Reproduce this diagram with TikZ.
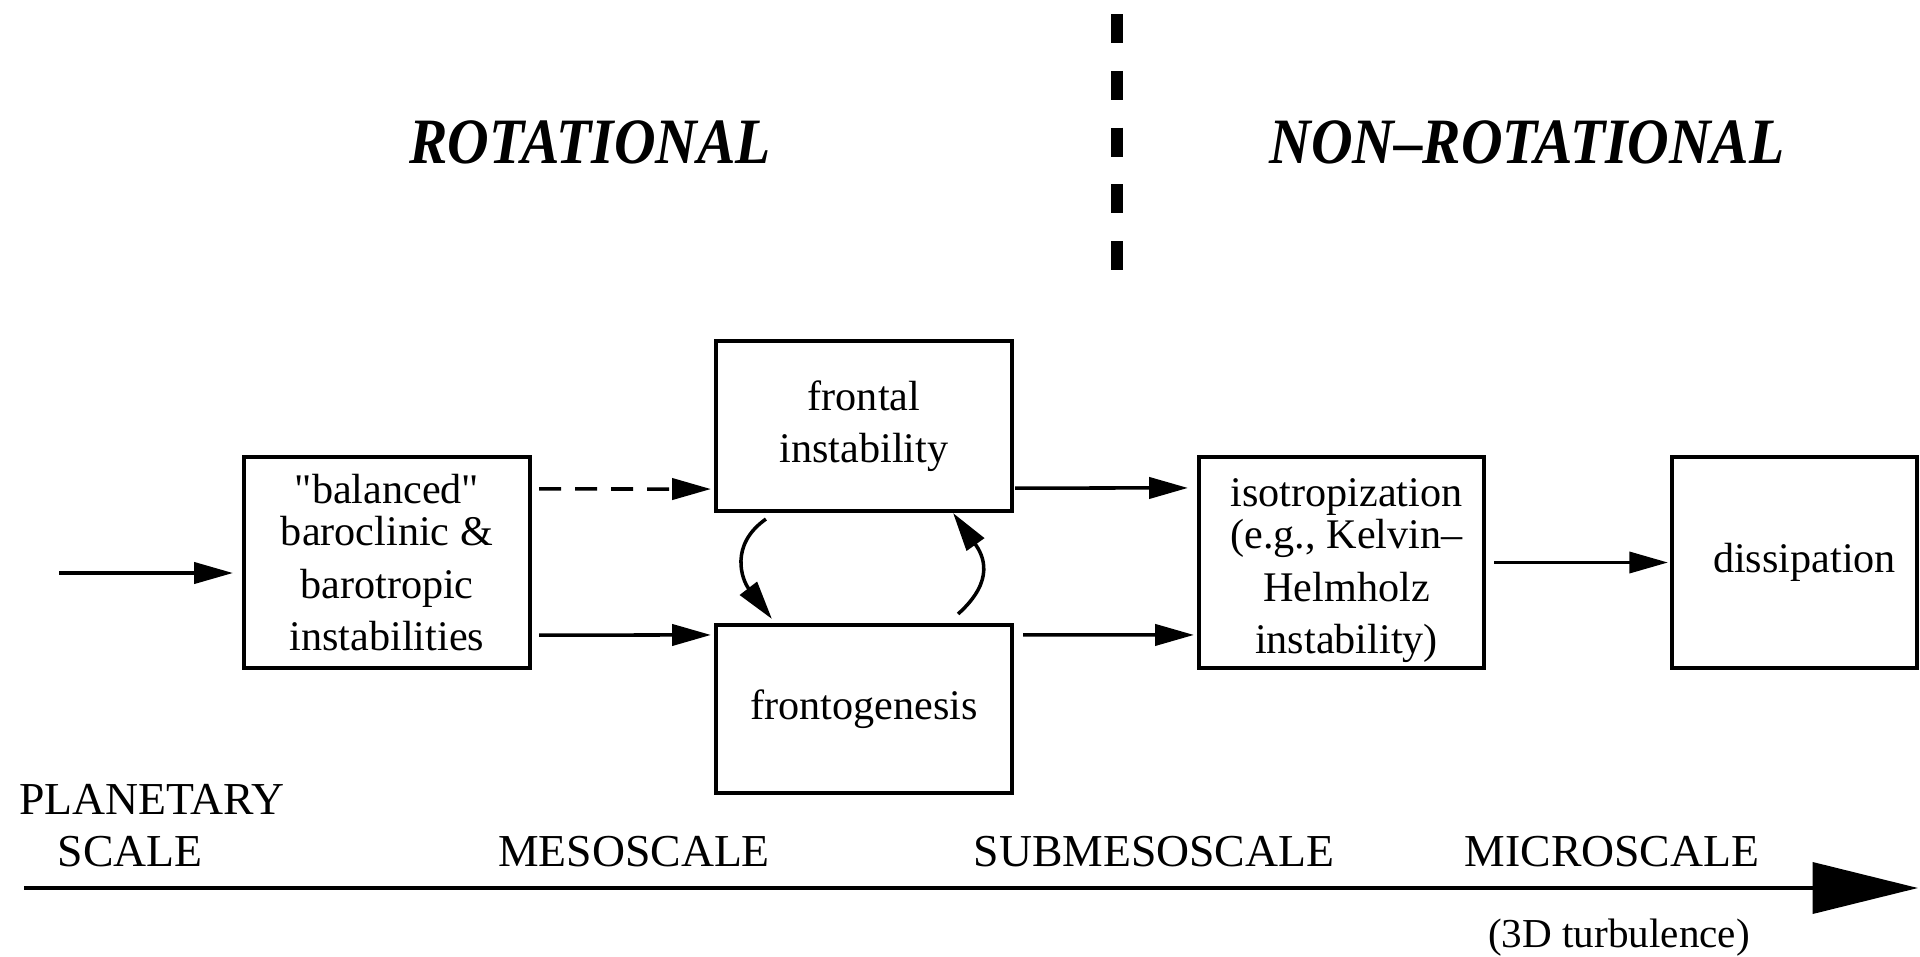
\documentclass[tikz,border=0pt]{standalone}
\usepackage{fontspec}
\setmainfont{Liberation Serif}
\newfontfamily\plainquote{Liberation Serif}
\usetikzlibrary{arrows.meta,calc}
\begin{document}
\begin{tikzpicture}[x=0.01cm,y=-0.01cm,
  box/.style={draw,line width=1pt,inner sep=0pt,outer sep=0pt,align=center,font=\fontsize{12}{14.8}\selectfont},
  boxtext/.style={inner sep=0pt,align=center,font=\fontsize{12}{14.8}\selectfont},
  arr/.style={line width=1pt,-{Triangle[length=11pt,width=6pt]}},
  dasharr/.style={arr,dash pattern=on 0.22cm off 0.14cm},
  hdr/.style={font=\fontsize{18.4}{20}\selectfont\bfseries\itshape,anchor=base,inner sep=0pt},
  scl/.style={font=\fontsize{13}{15}\selectfont,anchor=base,inner sep=0pt},
  divider/.style={line width=3.4pt,dash pattern=on 0.29cm off 0.2775cm},
  axis/.style={line width=1.1pt,-{Triangle[length=30pt,width=14.5pt]}}]
\useasboundingbox (0,0) rectangle (1920,957);

% headers and divider
\node[hdr] (rot) at (590,163) {\scalebox{0.89}[1]{ROTATIONAL}};
\node[hdr] (nonrot) at (1527,163) {\scalebox{0.89}[1]{NON--ROTATIONAL}};
\coordinate (dtop) at (1117,14);
\coordinate (dbot) at (1117,270);
\draw[divider] (dtop) -- (dbot);

% boxes
\node[box,minimum width=2.86cm,minimum height=2.11cm] (bal) at (387,562.5)
  {{\plainquote"}balanced{\plainquote"}\\[-2.8pt]baroclinic \&\\barotropic\\instabilities};
\node[box,minimum width=2.96cm,minimum height=1.70cm] (fi) at (864,426)
  {frontal\\instability};
\node[box,minimum width=2.96cm,minimum height=1.68cm] (fg) at (864,709)
  {frontogenesis};
\node[box,minimum width=2.85cm,minimum height=2.11cm] (iso) at (1341.5,562.5) {};
\node[boxtext] (isoT) at ($(iso)+(5,8)$)
  {isotropization\\[-2.8pt](e.g., Kelvin--\\Helmholz\\instability)};
\node[box,minimum width=2.45cm,minimum height=2.11cm] (dis) at (1794.5,562.5) {};
\node[boxtext] (disT) at ($(dis)+(10,0)$) {dissipation};

% connectors
\coordinate (in) at (59,573);
\draw[arr] (in) -- ($(bal.west |- in)+(-11,0)$);
\draw[dasharr] ($(bal.north east)+(9,32)$) -- ($(fi.south west)+(-5,-22)$);
\draw[arr] ($(bal.south east)+(9,-33)$) -- ($(fg.north west)+(-5,10)$);
\draw[arr] ($(fi.south east)+(3,-23)$) -- ($(iso.north west)+(-11,31)$);
\draw[arr] ($(fg.north east)+(11,10)$) -- ($(iso.north west)+(-5,178)$);
\draw[arr] ($(iso.east)+(10,0)$) -- ($(dis.west)+(-4,0)$);
\draw[arr] ($(fi.south west)+(50,8)$) .. controls (729,545) and (742,580) .. ($(fg.north west)+(56,-6)$);
\draw[arr] ($(fg.north east)+(-54,-11)$) .. controls (996,580) and (983,555) .. ($(fi.south east)+(-59,2)$);

% scale axis
\coordinate (axs) at (24,888);
\coordinate (axe) at (1918,888);
\draw[axis] (axs) -- (axe);
\node[scl] (pl) at (152,814) {PLANETARY};
\node[scl] (sc) at (130,866) {SCALE};
\node[scl] (meso) at (634,866) {MESOSCALE};
\node[scl] (sub) at (1154,866) {SUBMESOSCALE};
\node[scl] (micro) at (1612,866) {MICROSCALE};
\node[scl,font=\fontsize{11.7}{14}\selectfont] (turb) at (1619,947) {(3D turbulence)};
\end{tikzpicture}
\end{document}
